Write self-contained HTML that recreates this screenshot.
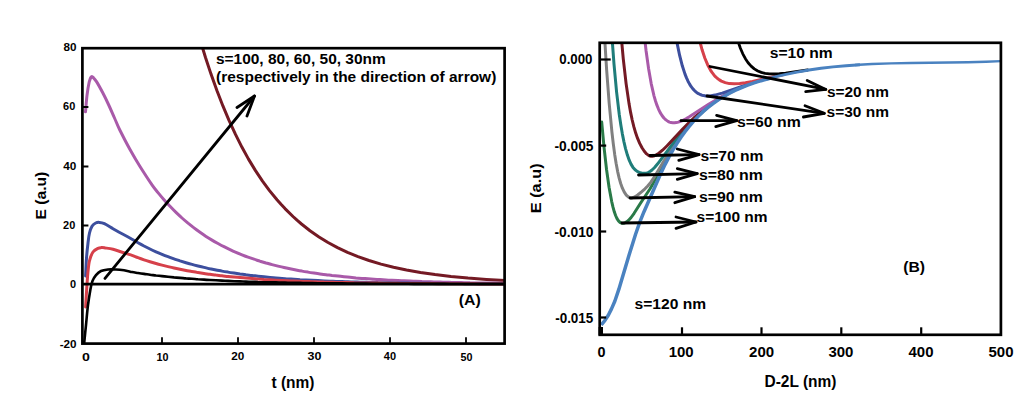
<!DOCTYPE html>
<html><head><meta charset="utf-8"><title>Figure</title>
<style>html,body{margin:0;padding:0;background:#fff;width:1034px;height:402px;overflow:hidden}
svg{display:block;font-family:"Liberation Sans",sans-serif}
text{fill:#000}</style></head><body>
<svg width="1034" height="402" viewBox="0 0 1034 402" font-family="Liberation Sans, sans-serif" font-weight="bold"><defs><clipPath id="cl"><rect x="82.4" y="48.2" width="422.2" height="295.4"/></clipPath><clipPath id="cr"><rect x="600" y="42.8" width="401" height="292"/></clipPath></defs><g clip-path="url(#cl)"><path d="M195.0 22.0L200.0 39.5L205.5 57.5L211.0 74.1L217.0 90.8L223.0 106.2L229.0 120.3L235.5 134.4L242.0 147.3L248.5 159.1L255.5 170.6L262.5 181.1L269.5 190.6L277.0 199.8L281.0 204.3L285.0 208.6L293.0 216.5L297.0 220.2L301.5 224.0L310.0 230.7L319.0 236.9L328.0 242.5L337.5 247.6L347.5 252.3L358.0 256.6L369.0 260.5L381.0 264.1L393.5 267.3L406.5 270.0L420.5 272.5L435.0 274.6L451.0 276.5L468.0 278.1L486.5 279.4L506.5 280.6" stroke="#741a24" stroke-width="3" fill="none" stroke-linecap="round" stroke-linejoin="round"/><path d="M85.5 111.8C85.8 109.1 86.4 100.4 87.0 95.4C87.6 90.4 88.5 85.1 89.2 82.0C90.0 78.9 90.7 77.3 91.5 76.7C92.3 76.1 93.0 77.4 93.8 78.2C94.6 79.0 95.0 79.2 96.5 81.6C98.0 83.9 100.5 88.5 102.5 92.3C104.5 96.1 106.5 100.2 108.5 104.5C110.5 108.8 112.6 113.8 114.5 118.0C116.4 122.2 117.2 124.8 119.8 130.0C122.4 135.2 126.6 143.4 130.0 149.5C133.4 155.6 136.3 160.6 140.0 166.5C143.7 172.4 149.0 180.5 152.0 184.8C155.0 189.1 156.0 190.1 158.0 192.6C160.0 195.1 162.0 197.4 164.0 199.7C166.0 202.0 168.0 204.2 170.0 206.3C172.0 208.4 174.0 210.5 176.0 212.4C178.0 214.3 180.0 216.2 182.0 218.0C184.0 219.8 186.0 221.5 188.0 223.2C190.0 224.8 192.0 226.4 194.0 227.9C196.0 229.5 198.0 230.9 200.0 232.3C202.0 233.7 204.0 235.1 206.0 236.4C208.0 237.7 210.0 238.9 212.0 240.1C214.0 241.3 216.0 242.4 218.0 243.5C220.0 244.6 222.0 245.7 224.0 246.7C226.0 247.7 228.0 248.7 230.0 249.6C232.0 250.6 234.0 251.5 236.0 252.3C238.0 253.2 240.0 254.0 242.0 254.8C244.0 255.6 246.0 256.4 248.0 257.1C250.0 257.8 252.0 258.5 254.0 259.2C256.0 259.9 258.0 260.5 260.0 261.2C262.0 261.8 264.0 262.4 266.0 263.0C268.0 263.5 270.0 264.1 272.0 264.6C274.0 265.1 276.0 265.6 278.0 266.1C280.0 266.6 282.0 267.1 284.0 267.5C286.0 268.0 288.0 268.4 290.0 268.8C292.0 269.2 294.0 269.6 296.0 270.0C298.0 270.4 300.0 270.8 302.0 271.1C304.0 271.5 306.0 271.8 308.0 272.1C310.0 272.5 312.0 272.8 314.0 273.1C316.0 273.4 318.0 273.7 320.0 273.9C322.0 274.2 324.0 274.5 326.0 274.7C328.0 275.0 330.0 275.2 332.0 275.5C334.0 275.7 336.0 275.9 338.0 276.1C340.0 276.4 342.0 276.6 344.0 276.8C346.0 277.0 348.0 277.2 350.0 277.3C352.0 277.5 354.0 277.7 356.0 277.9C358.0 278.0 360.0 278.2 362.0 278.4C364.0 278.5 366.0 278.7 368.0 278.8C370.0 278.9 372.0 279.1 374.0 279.2C376.0 279.3 378.0 279.5 380.0 279.6C382.0 279.7 384.0 279.8 386.0 279.9C388.0 280.1 390.0 280.2 392.0 280.3C394.0 280.4 396.0 280.5 398.0 280.6C400.0 280.7 402.0 280.8 404.0 280.8C406.0 280.9 408.0 281.0 410.0 281.1C412.0 281.2 414.0 281.3 416.0 281.3C418.0 281.4 420.0 281.5 422.0 281.6C424.0 281.6 426.0 281.7 428.0 281.8C430.0 281.8 432.0 281.9 434.0 281.9C436.0 282.0 438.0 282.1 440.0 282.1C442.0 282.2 444.0 282.2 446.0 282.3C448.0 282.3 450.0 282.4 452.0 282.4C454.0 282.5 456.0 282.5 458.0 282.5C460.0 282.6 462.0 282.6 464.0 282.7C466.0 282.7 468.0 282.7 470.0 282.8C472.0 282.8 474.0 282.8 476.0 282.9C478.0 282.9 480.0 282.9 482.0 283.0C484.0 283.0 486.0 283.0 488.0 283.1C490.0 283.1 492.0 283.1 494.0 283.1C496.0 283.2 498.0 283.2 500.0 283.2C502.0 283.2 505.0 283.3 506.0 283.3" stroke="#a95aa9" stroke-width="3" fill="none" stroke-linecap="round" stroke-linejoin="round"/><path d="M85.6 276.0C85.8 273.0 86.1 263.5 86.5 258.0C86.9 252.5 87.5 247.2 88.0 243.0C88.5 238.8 88.8 235.8 89.5 233.0C90.2 230.2 91.0 227.9 92.0 226.2C93.0 224.5 94.5 223.6 95.7 223.0C96.9 222.4 98.0 222.3 99.4 222.4C100.9 222.5 102.1 222.6 104.4 223.7C106.7 224.8 109.9 226.9 113.0 228.7C116.1 230.5 119.8 232.6 123.0 234.3C126.2 236.0 129.5 237.8 132.0 239.2C134.5 240.6 136.0 241.6 138.0 242.7C140.0 243.8 142.0 244.9 144.0 246.0C146.0 247.0 148.0 248.0 150.0 249.0C152.0 250.0 154.0 250.9 156.0 251.8C158.0 252.7 160.0 253.5 162.0 254.3C164.0 255.2 166.0 256.0 168.0 256.7C170.0 257.5 172.0 258.2 174.0 258.9C176.0 259.6 178.0 260.2 180.0 260.9C182.0 261.5 184.0 262.1 186.0 262.7C188.0 263.3 190.0 263.9 192.0 264.4C194.0 265.0 196.0 265.5 198.0 266.0C200.0 266.5 202.0 267.0 204.0 267.4C206.0 267.9 208.0 268.3 210.0 268.8C212.0 269.2 214.0 269.6 216.0 270.0C218.0 270.4 220.0 270.7 222.0 271.1C224.0 271.5 226.0 271.8 228.0 272.1C230.0 272.5 232.0 272.8 234.0 273.1C236.0 273.4 238.0 273.7 240.0 274.0C242.0 274.2 244.0 274.5 246.0 274.8C248.0 275.0 250.0 275.3 252.0 275.5C254.0 275.7 256.0 276.0 258.0 276.2C260.0 276.4 262.0 276.6 264.0 276.8C266.0 277.0 268.0 277.2 270.0 277.4C272.0 277.6 274.0 277.8 276.0 277.9C278.0 278.1 280.0 278.3 282.0 278.4C284.0 278.6 286.0 278.7 288.0 278.9C290.0 279.0 292.0 279.2 294.0 279.3C296.0 279.4 298.0 279.5 300.0 279.7C302.0 279.8 304.0 279.9 306.0 280.0C308.0 280.1 310.0 280.2 312.0 280.3C314.0 280.4 316.0 280.5 318.0 280.6C320.0 280.7 322.0 280.8 324.0 280.9C326.0 281.0 328.0 281.1 330.0 281.2C332.0 281.3 334.0 281.3 336.0 281.4C338.0 281.5 340.0 281.5 342.0 281.6C344.0 281.7 346.0 281.8 348.0 281.8C350.0 281.9 352.0 281.9 354.0 282.0C356.0 282.1 358.0 282.1 360.0 282.2C362.0 282.2 364.0 282.3 366.0 282.3C368.0 282.4 370.0 282.4 372.0 282.5C374.0 282.5 376.0 282.5 378.0 282.6C380.0 282.6 382.0 282.7 384.0 282.7C386.0 282.7 388.0 282.8 390.0 282.8C392.0 282.9 394.0 282.9 396.0 282.9C398.0 283.0 400.0 283.0 402.0 283.0C404.0 283.0 406.0 283.1 408.0 283.1C410.0 283.1 412.0 283.2 414.0 283.2C416.0 283.2 418.0 283.2 420.0 283.3C422.0 283.3 424.0 283.3 426.0 283.3C428.0 283.3 430.0 283.4 432.0 283.4C434.0 283.4 436.0 283.4 438.0 283.4C440.0 283.5 442.0 283.5 444.0 283.5C446.0 283.5 448.0 283.5 450.0 283.5C452.0 283.6 454.0 283.6 456.0 283.6C458.0 283.6 460.0 283.6 462.0 283.6C464.0 283.6 466.0 283.7 468.0 283.7C470.0 283.7 472.0 283.7 474.0 283.7C476.0 283.7 478.0 283.7 480.0 283.7C482.0 283.7 484.0 283.8 486.0 283.8C488.0 283.8 490.0 283.8 492.0 283.8C494.0 283.8 496.0 283.8 498.0 283.8C500.0 283.8 502.7 283.8 504.0 283.8C505.3 283.8 505.7 283.8 506.0 283.8" stroke="#3d4f9e" stroke-width="3" fill="none" stroke-linecap="round" stroke-linejoin="round"/><path d="M85.6 307.0C85.9 302.1 86.9 284.9 87.5 277.3C88.1 269.7 88.4 265.7 89.3 261.5C90.2 257.3 91.5 254.2 93.0 252.0C94.5 249.8 96.6 249.0 98.0 248.3C99.4 247.6 100.3 247.7 101.5 247.6C102.7 247.5 103.1 247.6 105.0 247.9C106.9 248.2 110.0 248.5 113.0 249.3C116.0 250.1 119.8 251.5 123.0 252.5C126.2 253.5 129.5 254.6 132.0 255.4C134.5 256.3 136.0 257.0 138.0 257.7C140.0 258.4 142.0 259.1 144.0 259.8C146.0 260.5 148.0 261.1 150.0 261.7C152.0 262.3 154.0 262.9 156.0 263.5C158.0 264.1 160.0 264.6 162.0 265.1C164.0 265.7 166.0 266.2 168.0 266.6C170.0 267.1 172.0 267.6 174.0 268.0C176.0 268.5 178.0 268.9 180.0 269.3C182.0 269.7 184.0 270.1 186.0 270.5C188.0 270.9 190.0 271.2 192.0 271.6C194.0 271.9 196.0 272.2 198.0 272.6C200.0 272.9 202.0 273.2 204.0 273.5C206.0 273.8 208.0 274.0 210.0 274.3C212.0 274.6 214.0 274.8 216.0 275.1C218.0 275.3 220.0 275.6 222.0 275.8C224.0 276.0 226.0 276.3 228.0 276.5C230.0 276.7 232.0 276.9 234.0 277.1C236.0 277.3 238.0 277.5 240.0 277.6C242.0 277.8 244.0 278.0 246.0 278.1C248.0 278.3 250.0 278.5 252.0 278.6C254.0 278.8 256.0 278.9 258.0 279.1C260.0 279.2 262.0 279.3 264.0 279.5C266.0 279.6 268.0 279.7 270.0 279.8C272.0 279.9 274.0 280.1 276.0 280.2C278.0 280.3 280.0 280.4 282.0 280.5C284.0 280.6 286.0 280.7 288.0 280.8C290.0 280.9 292.0 280.9 294.0 281.0C296.0 281.1 298.0 281.2 300.0 281.3C302.0 281.4 304.0 281.4 306.0 281.5C308.0 281.6 310.0 281.6 312.0 281.7C314.0 281.8 316.0 281.8 318.0 281.9C320.0 282.0 322.0 282.0 324.0 282.1C326.0 282.1 328.0 282.2 330.0 282.2C332.0 282.3 334.0 282.3 336.0 282.4C338.0 282.4 340.0 282.5 342.0 282.5C344.0 282.6 346.0 282.6 348.0 282.6C350.0 282.7 352.0 282.7 354.0 282.8C356.0 282.8 358.0 282.8 360.0 282.9C362.0 282.9 364.0 282.9 366.0 283.0C368.0 283.0 370.0 283.0 372.0 283.1C374.0 283.1 376.0 283.1 378.0 283.1C380.0 283.2 382.0 283.2 384.0 283.2C386.0 283.2 388.0 283.3 390.0 283.3C392.0 283.3 394.0 283.3 396.0 283.3C398.0 283.4 400.0 283.4 402.0 283.4C404.0 283.4 406.0 283.4 408.0 283.5C410.0 283.5 412.0 283.5 414.0 283.5C416.0 283.5 418.0 283.5 420.0 283.6C422.0 283.6 424.0 283.6 426.0 283.6C428.0 283.6 430.0 283.6 432.0 283.6C434.0 283.7 436.0 283.7 438.0 283.7C440.0 283.7 442.0 283.7 444.0 283.7C446.0 283.7 448.0 283.7 450.0 283.7C452.0 283.8 454.0 283.8 456.0 283.8C458.0 283.8 460.0 283.8 462.0 283.8C464.0 283.8 466.0 283.8 468.0 283.8C470.0 283.8 472.0 283.8 474.0 283.8C476.0 283.9 478.0 283.9 480.0 283.9C482.0 283.9 484.0 283.9 486.0 283.9C488.0 283.9 490.0 283.9 492.0 283.9C494.0 283.9 496.0 283.9 498.0 283.9C500.0 283.9 502.7 283.9 504.0 283.9C505.3 283.9 505.7 283.9 506.0 283.9" stroke="#d6404a" stroke-width="3" fill="none" stroke-linecap="round" stroke-linejoin="round"/><path d="M84.0 345.0C84.3 341.7 85.3 331.7 86.0 325.0C86.7 318.3 87.2 311.0 88.0 305.0C88.8 299.0 89.8 293.0 90.5 289.0C91.2 285.0 91.6 283.3 92.5 281.0C93.4 278.7 94.6 276.9 96.0 275.2C97.4 273.5 99.0 271.9 101.0 271.0C103.0 270.1 105.5 269.8 108.0 269.5C110.5 269.2 113.3 269.4 116.0 269.5C118.7 269.6 121.3 269.9 124.0 270.3C126.7 270.7 129.7 271.6 132.0 272.1C134.3 272.6 136.0 272.7 138.0 273.0C140.0 273.3 142.0 273.6 144.0 273.9C146.0 274.2 148.0 274.4 150.0 274.7C152.0 275.0 154.0 275.2 156.0 275.5C158.0 275.7 160.0 275.9 162.0 276.1C164.0 276.4 166.0 276.6 168.0 276.8C170.0 277.0 172.0 277.2 174.0 277.4C176.0 277.5 178.0 277.7 180.0 277.9C182.0 278.1 184.0 278.2 186.0 278.4C188.0 278.5 190.0 278.7 192.0 278.8C194.0 279.0 196.0 279.1 198.0 279.3C200.0 279.4 202.0 279.5 204.0 279.6C206.0 279.8 208.0 279.9 210.0 280.0C212.0 280.1 214.0 280.2 216.0 280.3C218.0 280.4 220.0 280.5 222.0 280.6C224.0 280.7 226.0 280.8 228.0 280.9C230.0 281.0 232.0 281.1 234.0 281.2C236.0 281.2 238.0 281.3 240.0 281.4C242.0 281.5 244.0 281.5 246.0 281.6C248.0 281.7 250.0 281.7 252.0 281.8C254.0 281.9 256.0 281.9 258.0 282.0C260.0 282.0 262.0 282.1 264.0 282.2C266.0 282.2 268.0 282.3 270.0 282.3C272.0 282.4 274.0 282.4 276.0 282.4C278.0 282.5 280.0 282.5 282.0 282.6C284.0 282.6 286.0 282.7 288.0 282.7C290.0 282.7 292.0 282.8 294.0 282.8C296.0 282.8 298.0 282.9 300.0 282.9C302.0 282.9 304.0 283.0 306.0 283.0C308.0 283.0 310.0 283.1 312.0 283.1C314.0 283.1 316.0 283.1 318.0 283.2C320.0 283.2 322.0 283.2 324.0 283.2C326.0 283.3 328.0 283.3 330.0 283.3C332.0 283.3 334.0 283.4 336.0 283.4C338.0 283.4 340.0 283.4 342.0 283.4C344.0 283.5 346.0 283.5 348.0 283.5C350.0 283.5 352.0 283.5 354.0 283.5C356.0 283.6 358.0 283.6 360.0 283.6C362.0 283.6 364.0 283.6 366.0 283.6C368.0 283.6 370.0 283.6 372.0 283.7C374.0 283.7 376.0 283.7 378.0 283.7C380.0 283.7 382.0 283.7 384.0 283.7C386.0 283.7 388.0 283.7 390.0 283.8C392.0 283.8 394.0 283.8 396.0 283.8C398.0 283.8 400.0 283.8 402.0 283.8C404.0 283.8 406.0 283.8 408.0 283.8C410.0 283.8 412.0 283.8 414.0 283.9C416.0 283.9 418.0 283.9 420.0 283.9C422.0 283.9 424.0 283.9 426.0 283.9C428.0 283.9 430.0 283.9 432.0 283.9C434.0 283.9 436.0 283.9 438.0 283.9C440.0 283.9 442.0 283.9 444.0 283.9C446.0 283.9 448.0 283.9 450.0 284.0C452.0 284.0 454.0 284.0 456.0 284.0C458.0 284.0 460.0 284.0 462.0 284.0C464.0 284.0 466.0 284.0 468.0 284.0C470.0 284.0 472.0 284.0 474.0 284.0C476.0 284.0 478.0 284.0 480.0 284.0C482.0 284.0 484.0 284.0 486.0 284.0C488.0 284.0 490.0 284.0 492.0 284.0C494.0 284.0 496.0 284.0 498.0 284.0C500.0 284.0 502.7 284.0 504.0 284.0C505.3 284.0 505.7 284.0 506.0 284.0" stroke="#000" stroke-width="2.6" fill="none" stroke-linecap="round" stroke-linejoin="round"/></g><line x1="82.4" y1="284.1" x2="504.6" y2="284.1" stroke="#000" stroke-width="2.6" stroke-linecap="butt"/><rect x="82.4" y="48.2" width="422.2" height="295.4" fill="none" stroke="#000" stroke-width="2.7"/><line x1="82.4" y1="107.0" x2="88.4" y2="107.0" stroke="#000" stroke-width="2" stroke-linecap="butt"/><line x1="82.4" y1="166.5" x2="88.4" y2="166.5" stroke="#000" stroke-width="2" stroke-linecap="butt"/><line x1="82.4" y1="225.5" x2="88.4" y2="225.5" stroke="#000" stroke-width="2" stroke-linecap="butt"/><line x1="162.0" y1="343.6" x2="162.0" y2="337.3" stroke="#000" stroke-width="1.8" stroke-linecap="butt"/><line x1="238.0" y1="343.6" x2="238.0" y2="337.3" stroke="#000" stroke-width="1.8" stroke-linecap="butt"/><line x1="314.0" y1="343.6" x2="314.0" y2="337.3" stroke="#000" stroke-width="1.8" stroke-linecap="butt"/><line x1="390.0" y1="343.6" x2="390.0" y2="337.3" stroke="#000" stroke-width="1.8" stroke-linecap="butt"/><line x1="466.0" y1="343.6" x2="466.0" y2="337.3" stroke="#000" stroke-width="1.8" stroke-linecap="butt"/><line x1="105.0" y1="278.4" x2="254.5" y2="96.0" stroke="#000" stroke-width="2.8" stroke-linecap="round"/><polyline points="237.0,107.5 254.5,96.0 247.0,116.0" stroke="#000" stroke-width="2.8" fill="none" stroke-linecap="round" stroke-linejoin="round"/><g clip-path="url(#cr)"><path d="M601.7 122.1L604.1 147.9L606.5 169.2L609.1 187.5L611.7 201.6L613.0 207.2L614.3 211.8L615.6 215.5L617.0 218.6L618.5 220.9L620.0 222.4L621.6 223.2L623.4 223.3L624.6 223.0L625.8 222.4L627.1 221.6L628.4 220.5L631.1 217.5L634.1 213.3L640.3 203.5L649.9 189.0L653.4 182.9L662.4 165.8L667.5 156.7L674.0 146.1L680.5 136.6L686.8 128.4L693.2 121.0L699.9 114.3L706.8 108.2" stroke="#2a7a48" stroke-width="3" fill="none" stroke-linecap="round" stroke-linejoin="round"/><path d="M604.2 30.7L606.6 69.3L609.2 103.5L611.9 131.8L613.3 143.9L614.7 154.4L616.1 163.3L617.6 171.3L619.1 177.9L620.7 183.5L622.4 188.2L624.3 192.2L626.3 195.1L628.3 196.9L629.9 197.7L631.5 197.9L633.2 197.6L635.1 196.7L637.7 195.0L641.8 191.6L645.0 188.8L647.7 186.0L650.7 182.4L653.9 177.7L665.2 158.7L671.9 148.1L677.8 139.6L683.5 132.0L690.5 123.7L697.7 116.2L705.1 109.5L712.9 103.4" stroke="#808080" stroke-width="3" fill="none" stroke-linecap="round" stroke-linejoin="round"/><path d="M611.5 30.5L614.0 64.1L616.6 92.1L619.3 114.7L620.8 124.8L622.3 133.6L623.9 141.6L625.6 148.8L627.4 155.1L629.2 160.2L631.0 164.1L633.0 167.4L635.1 169.8L637.5 171.6L639.3 172.4L641.4 173.0L643.3 173.3L645.2 173.2L647.0 172.9L648.7 172.3L650.3 171.3L652.0 170.0L654.6 167.5L657.7 163.8L671.5 145.3L679.7 134.8L686.3 127.1L692.7 120.2L700.6 112.8L708.7 106.1L717.4 100.0L726.5 94.6" stroke="#1f7d7a" stroke-width="3" fill="none" stroke-linecap="round" stroke-linejoin="round"/><path d="M620.7 30.8L623.3 59.1L626.1 83.6L629.1 104.1L630.6 112.4L632.2 120.0L633.9 126.9L635.7 133.1L637.6 138.4L639.7 143.4L642.0 147.8L644.3 151.3L646.6 153.9L648.9 155.6L650.0 156.0L651.1 156.3L652.3 156.3L653.5 156.1L656.0 155.1L658.9 153.2L662.5 150.2L667.1 145.7L682.7 129.1L689.1 122.6L695.1 116.9L700.9 111.8L708.7 105.7L716.9 100.1L725.3 95.1L733.9 90.7" stroke="#741a24" stroke-width="3" fill="none" stroke-linecap="round" stroke-linejoin="round"/><path d="M643.7 30.1L646.1 51.0L648.6 68.8L651.2 83.6L654.0 95.8L655.5 101.0L657.0 105.4L658.6 109.3L660.2 112.6L662.0 115.5L663.9 118.0L665.9 119.9L668.0 121.4L669.5 122.1L671.1 122.6L672.8 122.8L674.5 122.8L676.3 122.6L678.3 122.1L682.6 120.5L685.9 118.8L689.7 116.6L709.0 104.0L720.5 97.2L726.5 94.0L732.5 91.1L738.6 88.4L744.8 86.0" stroke="#a95aa9" stroke-width="3" fill="none" stroke-linecap="round" stroke-linejoin="round"/><path d="M675.0 30.5L677.3 44.1L679.7 55.7L682.3 65.8L685.0 74.1L686.5 77.9L688.0 81.2L689.6 84.1L691.2 86.7L692.9 88.9L694.7 90.8L696.6 92.4L698.5 93.7L700.2 94.5L701.9 95.2L703.7 95.6L705.7 95.9L710.0 95.9L714.9 95.1L722.2 93.1L746.2 84.9L754.2 82.4L762.5 80.0" stroke="#3d4f9e" stroke-width="3" fill="none" stroke-linecap="round" stroke-linejoin="round"/><path d="M697.3 30.1L699.6 40.5L702.1 49.8L704.8 58.0L707.6 64.7L710.6 70.3L712.2 72.7L713.9 74.9L715.7 76.9L717.5 78.5L719.4 79.9L721.4 81.1L725.2 82.6L729.4 83.6L734.2 83.8L739.7 83.5L745.4 82.7L752.5 81.4L782.9 74.8" stroke="#d6404a" stroke-width="3" fill="none" stroke-linecap="round" stroke-linejoin="round"/><path d="M736.0 34.4L738.1 41.6L740.4 48.2L742.8 53.8L745.4 58.7L748.1 62.7L751.1 66.1L754.3 68.9L757.8 71.0L761.3 72.4L765.1 73.4L769.4 73.9L774.3 74.0L779.4 73.7L785.6 73.1L807.6 70.0" stroke="#000" stroke-width="2.8" fill="none" stroke-linecap="round" stroke-linejoin="round"/><path d="M601.3 324.8L604.8 320.6L608.3 315.2L611.5 308.9L614.8 301.2L618.8 289.4L629.0 255.3L635.5 234.5L639.8 222.1L644.0 211.7L660.0 175.2L665.0 164.6L669.0 156.9L673.0 149.8L677.0 143.3L681.0 137.2L685.0 131.7L689.0 126.6L693.0 121.9L698.0 116.5L703.0 111.7L708.0 107.4L713.0 103.6L718.0 100.1L723.0 96.9L729.0 93.5L735.0 90.4L741.0 87.8L747.0 85.4L754.0 82.9L761.0 80.7L770.0 78.2" stroke="#4a82c0" stroke-width="3.5" fill="none" stroke-linecap="butt" stroke-linejoin="round"/><path d="M765.0 79.6L775.0 76.9L786.0 74.3L797.0 72.1L809.0 70.0L821.0 68.3L833.0 66.9L846.0 65.7L860.0 64.7" stroke="#4a82c0" stroke-width="2.9" fill="none" stroke-linecap="butt" stroke-linejoin="round"/><path d="M855.0 65.0L872.0 64.0L891.0 63.4L911.0 63.0L968.0 62.3L986.0 61.8L1002.0 61.1" stroke="#4a82c0" stroke-width="2.4" fill="none" stroke-linecap="butt" stroke-linejoin="round"/></g><rect x="599.7" y="42.8" width="401.2" height="292.0" fill="none" stroke="#000" stroke-width="2.7"/><rect x="598.6" y="327" width="4.4" height="8" fill="#000"/><line x1="599.7" y1="59.5" x2="610.7" y2="59.5" stroke="#000" stroke-width="2.2" stroke-linecap="butt"/><line x1="599.7" y1="145.6" x2="606.2" y2="145.6" stroke="#000" stroke-width="2.2" stroke-linecap="butt"/><line x1="599.7" y1="231.5" x2="606.2" y2="231.5" stroke="#000" stroke-width="2.2" stroke-linecap="butt"/><line x1="599.7" y1="317.5" x2="606.2" y2="317.5" stroke="#000" stroke-width="2.2" stroke-linecap="butt"/><line x1="682.0" y1="334.8" x2="682.0" y2="327.3" stroke="#000" stroke-width="2.2" stroke-linecap="butt"/><line x1="761.5" y1="334.8" x2="761.5" y2="327.3" stroke="#000" stroke-width="2.2" stroke-linecap="butt"/><line x1="841.3" y1="334.8" x2="841.3" y2="327.3" stroke="#000" stroke-width="2.2" stroke-linecap="butt"/><line x1="921.2" y1="334.8" x2="921.2" y2="327.3" stroke="#000" stroke-width="2.2" stroke-linecap="butt"/><line x1="710.0" y1="66.5" x2="825.8" y2="89.4" stroke="#000" stroke-width="2.8" stroke-linecap="round"/><polyline points="807.2,80.4 825.8,89.4 805.7,91.6" stroke="#000" stroke-width="2.8" fill="none" stroke-linecap="round" stroke-linejoin="round"/><line x1="707.0" y1="96.0" x2="824.3" y2="113.3" stroke="#000" stroke-width="2.8" stroke-linecap="round"/><polyline points="805.0,105.8 824.3,113.3 803.4,117.0" stroke="#000" stroke-width="2.8" fill="none" stroke-linecap="round" stroke-linejoin="round"/><line x1="681.0" y1="120.7" x2="736.7" y2="120.7" stroke="#000" stroke-width="2.8" stroke-linecap="round"/><polyline points="716.6,115.4 736.7,120.7 715.8,126.6" stroke="#000" stroke-width="2.8" fill="none" stroke-linecap="round" stroke-linejoin="round"/><line x1="650.0" y1="155.5" x2="699.0" y2="154.6" stroke="#000" stroke-width="2.8" stroke-linecap="round"/><polyline points="677.3,149.0 699.0,154.6 678.8,160.3" stroke="#000" stroke-width="2.8" fill="none" stroke-linecap="round" stroke-linejoin="round"/><line x1="638.5" y1="175.0" x2="697.2" y2="173.6" stroke="#000" stroke-width="2.8" stroke-linecap="round"/><polyline points="677.3,168.6 697.2,173.6 677.3,179.3" stroke="#000" stroke-width="2.8" fill="none" stroke-linecap="round" stroke-linejoin="round"/><line x1="630.0" y1="198.0" x2="694.7" y2="196.7" stroke="#000" stroke-width="2.8" stroke-linecap="round"/><polyline points="674.8,192.2 694.7,196.7 674.8,202.7" stroke="#000" stroke-width="2.8" fill="none" stroke-linecap="round" stroke-linejoin="round"/><line x1="621.9" y1="223.0" x2="696.0" y2="222.0" stroke="#000" stroke-width="2.8" stroke-linecap="round"/><polyline points="676.0,217.0 696.0,222.0 676.0,228.3" stroke="#000" stroke-width="2.8" fill="none" stroke-linecap="round" stroke-linejoin="round"/><text x="63.4" y="51.2" font-size="11.70" textLength="13.0" lengthAdjust="spacingAndGlyphs">80</text><text x="63.1" y="110.3" font-size="11.70" textLength="12.2" lengthAdjust="spacingAndGlyphs">60</text><text x="63.3" y="170.3" font-size="11.70" textLength="13.1" lengthAdjust="spacingAndGlyphs">40</text><text x="63.1" y="229.3" font-size="11.70" textLength="12.2" lengthAdjust="spacingAndGlyphs">20</text><text x="70.1" y="288.4" font-size="11.70" textLength="6.1" lengthAdjust="spacingAndGlyphs">0</text><text x="59.7" y="348.2" font-size="11.70" textLength="16.9" lengthAdjust="spacingAndGlyphs">-20</text><text x="81.9" y="360.5" font-size="11.70" textLength="7.9" lengthAdjust="spacingAndGlyphs">0</text><text x="156.5" y="361.0" font-size="11.70" textLength="12.0" lengthAdjust="spacingAndGlyphs">10</text><text x="231.2" y="360.4" font-size="11.70" textLength="13.1" lengthAdjust="spacingAndGlyphs">20</text><text x="307.6" y="360.4" font-size="11.70" textLength="13.9" lengthAdjust="spacingAndGlyphs">30</text><text x="383.8" y="360.4" font-size="11.70" textLength="12.2" lengthAdjust="spacingAndGlyphs">40</text><text x="460.4" y="360.5" font-size="11.70" textLength="12.0" lengthAdjust="spacingAndGlyphs">50</text><text x="271.5" y="387.5" font-size="15.80" textLength="43.0" lengthAdjust="spacingAndGlyphs">t (nm)</text><text transform="translate(46.2,219.6) rotate(-90)" font-size="14.20" textLength="47.9" lengthAdjust="spacingAndGlyphs">E (a.u)</text><text x="215.9" y="63.9" font-size="14.20" textLength="169.9" lengthAdjust="spacingAndGlyphs">s=100, 80, 60, 50, 30nm</text><text x="216.1" y="81.6" font-size="14.20" textLength="280.2" lengthAdjust="spacingAndGlyphs">(respectively in the direction of arrow)</text><text x="458.8" y="304.8" font-size="15.00" textLength="22.0" lengthAdjust="spacingAndGlyphs">(A)</text><text x="559.3" y="64.3" font-size="14.00" textLength="33.1" lengthAdjust="spacingAndGlyphs">0.000</text><text x="554.5" y="150.9" font-size="14.00" textLength="39.0" lengthAdjust="spacingAndGlyphs">-0.005</text><text x="554.5" y="236.6" font-size="14.00" textLength="39.0" lengthAdjust="spacingAndGlyphs">-0.010</text><text x="555.2" y="322.5" font-size="14.00" textLength="38.1" lengthAdjust="spacingAndGlyphs">-0.015</text><text x="597.5" y="356.9" font-size="14.30" textLength="8.0" lengthAdjust="spacingAndGlyphs">0</text><text x="668.7" y="357.2" font-size="14.30" textLength="25.0" lengthAdjust="spacingAndGlyphs">100</text><text x="749.1" y="356.9" font-size="14.30" textLength="25.1" lengthAdjust="spacingAndGlyphs">200</text><text x="828.4" y="356.9" font-size="14.30" textLength="25.0" lengthAdjust="spacingAndGlyphs">300</text><text x="908.5" y="357.2" font-size="14.30" textLength="25.0" lengthAdjust="spacingAndGlyphs">400</text><text x="988.5" y="357.2" font-size="14.30" textLength="25.0" lengthAdjust="spacingAndGlyphs">500</text><text x="764.5" y="386.5" font-size="15.80" textLength="72.0" lengthAdjust="spacingAndGlyphs">D-2L (nm)</text><text transform="translate(541.2,213.2) rotate(-90)" font-size="14.20" textLength="49.8" lengthAdjust="spacingAndGlyphs">E (a.u)</text><text x="769.8" y="57.7" font-size="14.10" textLength="62.9" lengthAdjust="spacingAndGlyphs">s=10 nm</text><text x="826.9" y="97.1" font-size="14.10" textLength="62.1" lengthAdjust="spacingAndGlyphs">s=20 nm</text><text x="826.6" y="117.1" font-size="14.10" textLength="62.4" lengthAdjust="spacingAndGlyphs">s=30 nm</text><text x="737.0" y="126.9" font-size="14.10" textLength="63.8" lengthAdjust="spacingAndGlyphs">s=60 nm</text><text x="700.5" y="161.3" font-size="14.10" textLength="63.0" lengthAdjust="spacingAndGlyphs">s=70 nm</text><text x="698.9" y="180.1" font-size="14.10" textLength="63.9" lengthAdjust="spacingAndGlyphs">s=80 nm</text><text x="698.9" y="202.2" font-size="14.10" textLength="63.9" lengthAdjust="spacingAndGlyphs">s=90 nm</text><text x="696.6" y="222.4" font-size="14.10" textLength="71.0" lengthAdjust="spacingAndGlyphs">s=100 nm</text><text x="634.6" y="309.4" font-size="14.10" textLength="71.5" lengthAdjust="spacingAndGlyphs">s=120 nm</text><text x="903.2" y="272.1" font-size="14.00" textLength="21.8" lengthAdjust="spacingAndGlyphs">(B)</text></svg>
</body></html>
